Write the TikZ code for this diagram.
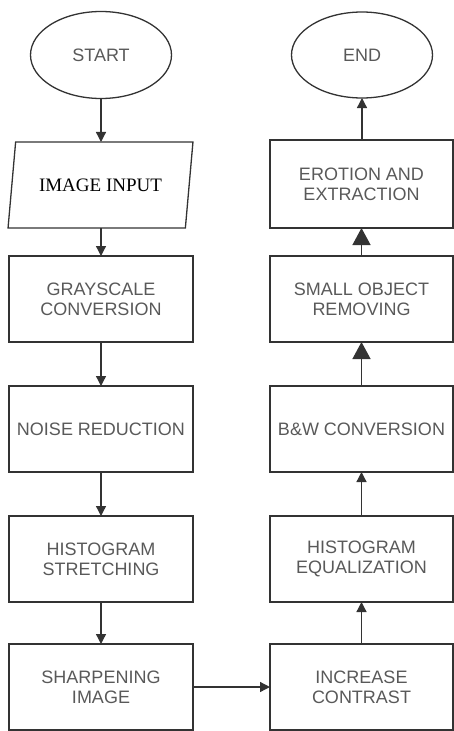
\documentclass[tikz,border=0pt]{standalone}
\usepackage{fontspec}
\setmainfont{Liberation Sans}
\newfontfamily\serifface{Liberation Serif}
\usetikzlibrary{shapes.geometric,arrows.meta}

\tikzset{
  frame/.style={draw=black!80, line width=1.3pt},
  label text/.style={text=black!65, font=\fontsize{18}{20}\selectfont, align=center},
  procbox/.style={frame, label text, rectangle, inner sep=0pt, outer sep=0pt,
                  minimum height=86pt},
  leftbox/.style={procbox, minimum width=184pt},
  rightbox/.style={procbox, minimum width=183pt},
  terminal/.style={frame, label text, ellipse, inner sep=0pt, outer sep=0pt,
                   minimum width=141pt, minimum height=87pt},
  iobox/.style={frame, trapezium, trapezium left angle=66.7, trapezium right angle=113.3,
                trapezium stretches=true, minimum width=185pt, minimum height=86pt,
                inner sep=0pt, outer sep=0pt,
                font=\serifface\fontsize{19}{21}\selectfont, text=black},
  flow/.style={draw=black!80, line width=1.3pt, -{Triangle[width=10pt,length=10pt]}},
  bigflow/.style={draw=black!80, line width=1.3pt, -{Triangle[width=18pt,length=17pt]}}
}

\begin{document}
\begin{tikzpicture}[x=1pt,y=-1pt]
  \useasboundingbox (0,0) rectangle (454,731);

  % left column, top to bottom
  \node[terminal] (start) at (101,55) {START};
  \node[iobox] (input) at (100.5,185) {IMAGE INPUT};
  \node[leftbox] (gray) at (101,299) {GRAYSCALE\\CONVERSION};
  \node[leftbox] (noise) at (101,429) {NOISE REDUCTION};
  \node[leftbox] (hstretch) at (101,559) {HISTOGRAM\\STRETCHING};
  \node[leftbox] (sharp) at (101,687) {SHARPENING\\IMAGE};

  % right column, bottom to top
  \node[rightbox] (contrast) at (361.5,687) {INCREASE\\CONTRAST};
  \node[rightbox] (hequal) at (361.5,559) {HISTOGRAM\\EQUALIZATION};
  \node[rightbox] (bw) at (361.5,429) {B\&W CONVERSION};
  \node[rightbox] (small) at (361.5,299) {SMALL OBJECT\\REMOVING};
  \node[rightbox, minimum height=88pt] (erosion) at (361.5,184) {EROTION AND\\EXTRACTION};
  \node[terminal, minimum height=86pt] (end) at (362,55) {END};

  % connectors
  \draw[flow] (start.south) -- (start.south |- input.north);
  \draw[flow] (input.south -| gray.north) -- (gray.north);
  \draw[flow] (gray) -- (noise);
  \draw[flow] (noise) -- (hstretch);
  \draw[flow] (hstretch) -- (sharp);
  \draw[flow] (sharp.east) -- (sharp.east -| contrast.west);
  \draw[flow] (contrast) -- (hequal);
  \draw[flow] (hequal) -- (bw);
  \draw[bigflow] (bw) -- (small);
  \draw[bigflow] (small) -- (erosion);
  \draw[flow] (erosion.north -| end.south) -- (end.south);
\end{tikzpicture}
\end{document}
